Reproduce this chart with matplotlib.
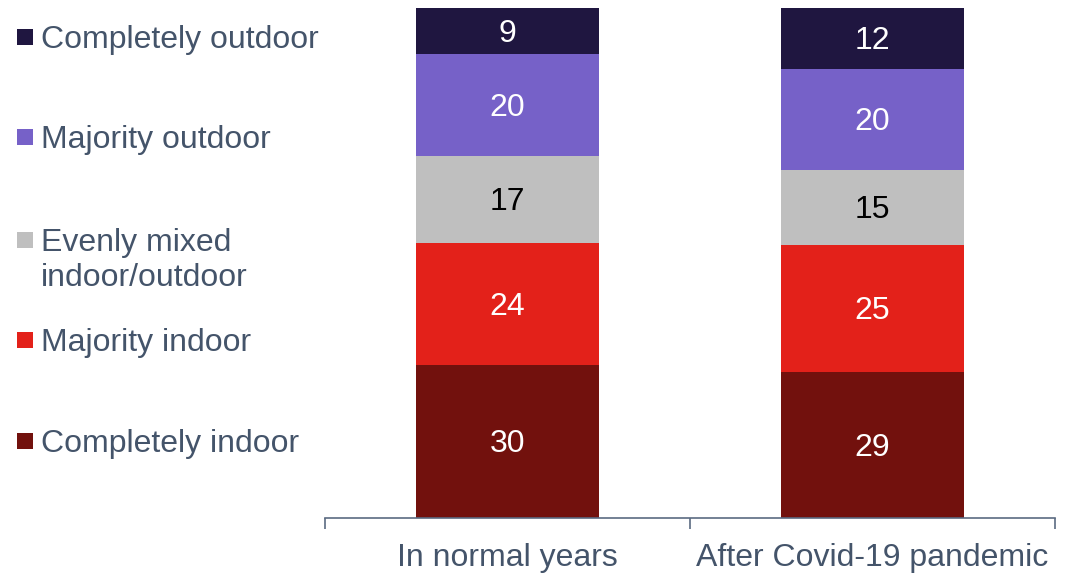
import matplotlib
matplotlib.use("Agg")
import matplotlib.pyplot as plt
import matplotlib.transforms as mtransforms
from matplotlib.patches import Rectangle
import numpy as np

plt.rcParams['font.family'] = ['Liberation Sans', 'DejaVu Sans']

categories = ["In normal years", "After Covid-19 pandemic"]
series_names = ["Completely indoor", "Majority indoor", "Evenly mixed\nindoor/outdoor",
                "Majority outdoor", "Completely outdoor"]
completely_indoor = [30, 29]
majority_indoor = [24, 25]
evenly_mixed = [17, 15]
majority_outdoor = [20, 20]
completely_outdoor = [9, 12]

series = [completely_indoor, majority_indoor, evenly_mixed, majority_outdoor, completely_outdoor]
colors = ["#72110D", "#E3211A", "#BFBFBF", "#7661C8", "#1F1640"]
label_colors = ["white", "white", "black", "white", "white"]
text_color = "#44546A"
fs = 23

W, H = 1068, 574
fig = plt.figure(figsize=(W / 100, H / 100), dpi=100)
ax = fig.add_axes([325 / W, (H - 518) / H, (1055 - 325) / W, (518 - 8) / H])

# shift text a few pixels down so glyphs sit visually centred
down = mtransforms.ScaledTranslation(0, -3 / 100, fig.dpi_scale_trans)

data = np.array(series, dtype=float)
totals = data.sum(axis=0)
shares = data / totals * 100

x = np.array([0.5, 1.5])
bottom = np.zeros(len(categories))
for vals, share, col, lc in zip(series, shares, colors, label_colors):
    ax.bar(x, share, width=0.5, bottom=bottom, color=col, edgecolor="none")
    for xi, b, s, v in zip(x, bottom, share, vals):
        ax.text(xi, b + s / 2, f"{v}", ha="center", va="center",
                fontsize=fs, color=lc, transform=ax.transData + down)
    bottom += share

ax.set_xlim(0, 2)
ax.set_ylim(0, 100)
for side in ["top", "right", "left"]:
    ax.spines[side].set_visible(False)
ax.spines["bottom"].set_color("#5B6B82")
ax.spines["bottom"].set_linewidth(1.2)
ax.set_yticks([])
ax.set_xticks([0, 1, 2])
ax.set_xticklabels([])
ax.tick_params(axis="x", which="major", direction="out", length=8,
               width=1.2, color="#5B6B82")
ax.set_xticks(x, minor=True)
ax.set_xticklabels(categories, minor=True, fontsize=fs, color=text_color)
ax.tick_params(axis="x", which="minor", length=0, pad=18)

# Legend drawn beside the bars, in figure pixel coordinates
legend_rows = [
    ("Completely outdoor", colors[4], 37),
    ("Majority outdoor", colors[3], 137),
    ("Evenly mixed\nindoor/outdoor", colors[2], 240),
    ("Majority indoor", colors[1], 340),
    ("Completely indoor", colors[0], 441),
]
for name, col, yc in legend_rows:
    fig.add_artist(Rectangle((17 / W, (H - yc - 8) / H), 16 / W, 16 / H,
                             transform=fig.transFigure, facecolor=col,
                             edgecolor="none"))
    lines = name.split("\n")
    for i, line in enumerate(lines):
        fig.text(41 / W, (H - yc - 35 * i) / H, line, ha="left",
                 va="center", fontsize=fs, color=text_color,
                 transform=fig.transFigure + down)

fig.savefig("out.png", dpi=100)
